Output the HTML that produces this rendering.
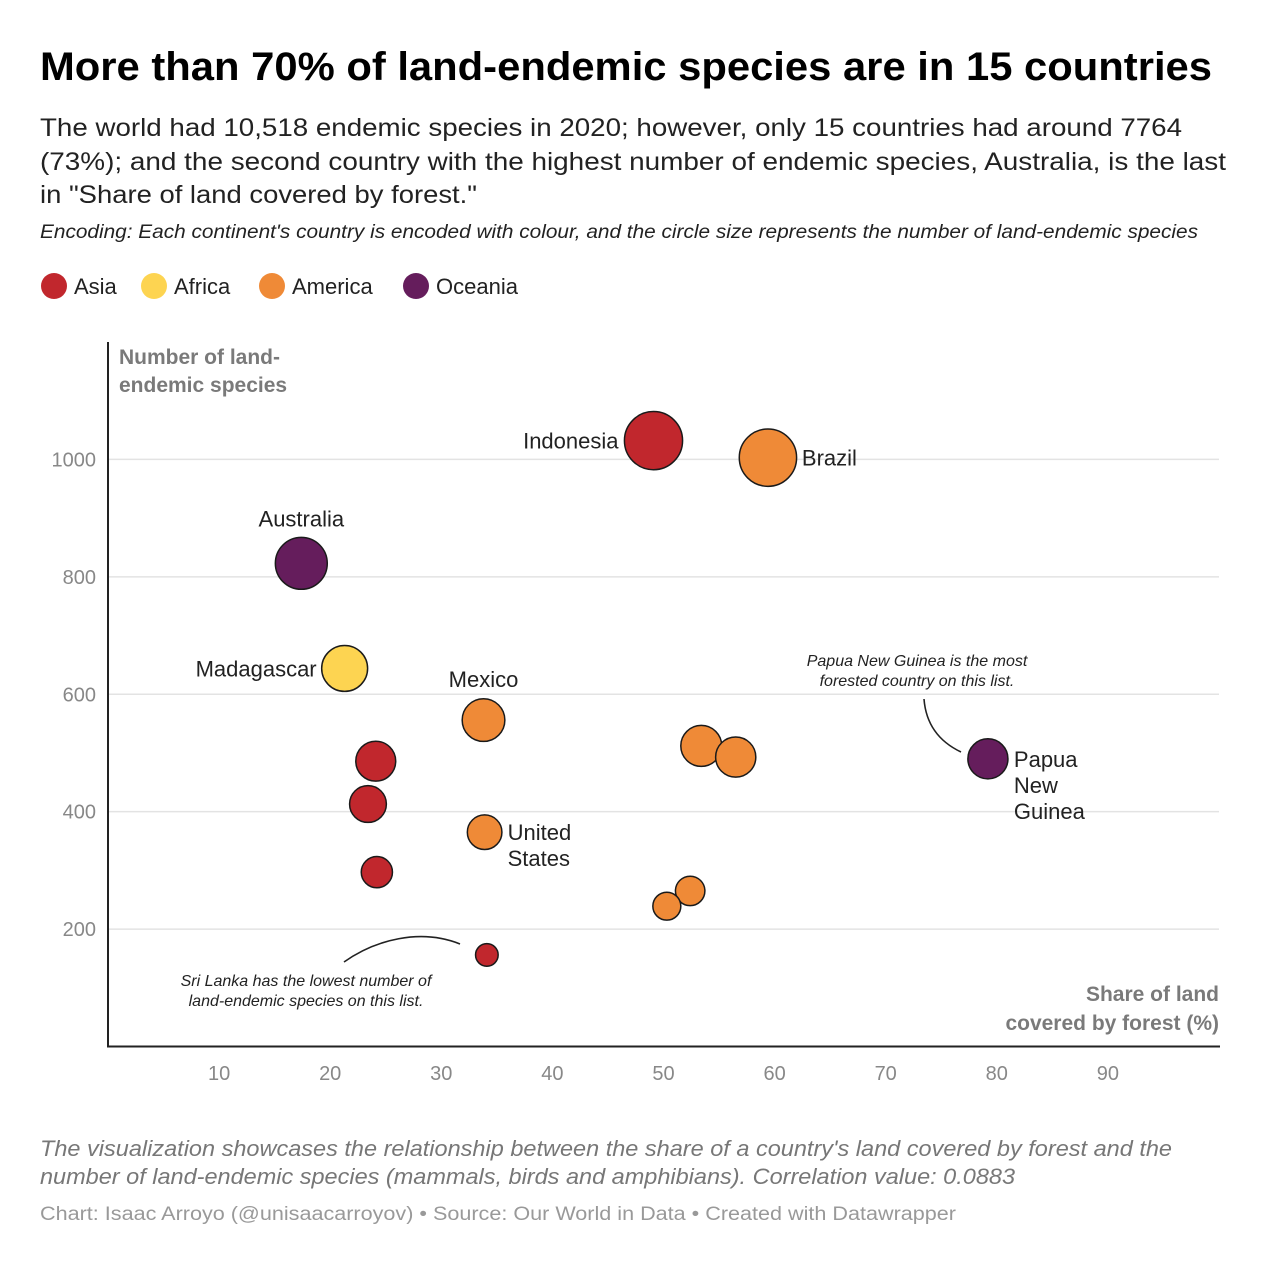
<!DOCTYPE html>
<html><head><meta charset="utf-8"><style>
html,body{margin:0;padding:0;background:#fff;}
svg{display:block;font-family:"Liberation Sans",Arial,sans-serif;}
</style></head><body>
<svg id="chart" width="1280" height="1280" viewBox="0 0 1280 1280" xmlns="http://www.w3.org/2000/svg">
<text x="40" y="80" font-size="40" font-weight="bold" fill="#000" textLength="1172" lengthAdjust="spacingAndGlyphs">More than 70% of land-endemic species are in 15 countries</text>
<g font-size="25" fill="#222">
<text x="40" y="136" textLength="1142" lengthAdjust="spacingAndGlyphs">The world had 10,518 endemic species in 2020; however, only 15 countries had around 7764</text>
<text x="40" y="170" textLength="1186" lengthAdjust="spacingAndGlyphs">(73%); and the second country with the highest number of endemic species, Australia, is the last</text>
<text x="40" y="203" textLength="437" lengthAdjust="spacingAndGlyphs">in "Share of land covered by forest."</text>
</g>
<text x="40" y="238" font-size="19" font-style="italic" fill="#222" textLength="1158" lengthAdjust="spacingAndGlyphs">Encoding: Each continent's country is encoded with colour, and the circle size represents the number of land-endemic species</text>
<g id="legend" font-size="22" fill="#222"></g>
<g id="plot"></g>
<g>
<text x="40" y="1156" font-size="22" font-style="italic" fill="#777" textLength="1132" lengthAdjust="spacingAndGlyphs">The visualization showcases the relationship between the share of a country's land covered by forest and the</text>
<text x="40" y="1184" font-size="22" font-style="italic" fill="#777" textLength="975" lengthAdjust="spacingAndGlyphs">number of land-endemic species (mammals, birds and amphibians). Correlation value: 0.0883</text>
<text x="40" y="1220" font-size="19" fill="#999" textLength="916" lengthAdjust="spacingAndGlyphs">Chart: Isaac Arroyo (@unisaacarroyov) • Source: Our World in Data • Created with Datawrapper</text>
</g>
</svg>
<script>
const NS='http://www.w3.org/2000/svg';
const continents=['Asia','Africa','America','Oceania'];
const colors={Asia:'#c1272d',Africa:'#fdd451',America:'#ef8a37',Oceania:'#651d5c'};
const countries=['Indonesia','Brazil','Australia','Madagascar','Mexico','United States','Asia A','Asia B','Asia C','Sri Lanka','America A','America B','America C','America D','Papua New Guinea'];
const forestShare=[49.1,59.4,17.4,21.3,33.8,33.9,24.1,23.4,24.2,34.1,53.4,56.5,52.4,50.3,79.2];
const species=[1032,1003,823,644,556,365,486,413,297,156,512,493,265,239,490];
const continentOf=['Asia','America','Oceania','Africa','America','America','Asia','Asia','Asia','Asia','America','America','America','America','Oceania'];
const xTicks=[10,20,30,40,50,60,70,80,90];
const yTicks=[200,400,600,800,1000];

const X0=108,X1=1219,Y0=1046.5,Y1=342;
const xs=v=>X0+(v/100)*(X1-X0);
const ys=v=>Y0-(v/1200)*(Y0-Y1);
const rs=v=>0.905*Math.sqrt(v);
function mk(tag,attrs,parent,txt){const e=document.createElementNS(NS,tag);for(const k in attrs)e.setAttribute(k,attrs[k]);if(txt!==undefined)e.textContent=txt;parent.appendChild(e);return e;}

const lg=document.getElementById('legend');
const lx=[54,154,272,416];
continents.forEach((c,i)=>{
  const g=mk('g',{},lg);
  
  
  mk('circle',{cx:lx[i],cy:286,r:13,fill:colors[c]},g);
  mk('text',{x:lx[i]+20,y:294},g,c);
});

const p=document.getElementById('plot');
yTicks.forEach(v=>{
  const l=mk('line',{x1:X0,x2:X1,y1:ys(v),y2:ys(v),stroke:'#e3e3e3','stroke-width':1.5},p);
  
  
  const t=mk('text',{x:96,y:ys(v)+7,'font-size':20,fill:'#888','text-anchor':'end'},p,String(v));
  
  
});
xTicks.forEach(v=>{
  const t=mk('text',{x:xs(v),y:1080,'font-size':20,fill:'#888','text-anchor':'middle'},p,String(v));
  
  
});
const ya=mk('line',{x1:X0,x2:X0,y1:Y1,y2:Y0,stroke:'#222','stroke-width':2},p);


const xa=mk('line',{x1:X0-1,x2:X1+1,y1:Y0,y2:Y0,stroke:'#222','stroke-width':2},p);


const yt=mk('g',{'font-size':21,'font-weight':'bold',fill:'#7a7a7a'},p);


mk('text',{x:119,y:364},yt,'Number of land-');
mk('text',{x:119,y:392},yt,'endemic species');
const xt=mk('g',{'font-size':21,'font-weight':'bold',fill:'#7a7a7a','text-anchor':'end'},p);


mk('text',{x:1219,y:1001},xt,'Share of land');
mk('text',{x:1219,y:1030},xt,'covered by forest (%)');

const a1=mk('path',{d:'M924,699 C926,725 940,742 961,752',fill:'none',stroke:'#222','stroke-width':1.6},p);


const at1=mk('g',{'font-size':16,'font-style':'italic',fill:'#222','text-anchor':'middle'},p);


mk('text',{x:917,y:666},at1,'Papua New Guinea is the most');
mk('text',{x:917,y:686},at1,'forested country on this list.');
const a2=mk('path',{d:'M344,962 C375,940 420,928 460,944',fill:'none',stroke:'#222','stroke-width':1.6},p);


const at2=mk('g',{'font-size':16,'font-style':'italic',fill:'#222','text-anchor':'middle'},p);


mk('text',{x:306,y:986},at2,'Sri Lanka has the lowest number of');
mk('text',{x:306,y:1006},at2,'land-endemic species on this list.');

const order=species.map((v,i)=>i).sort((a,b)=>species[b]-species[a]);
order.forEach(i=>{
  const c=mk('circle',{cx:xs(forestShare[i]),cy:ys(species[i]),r:rs(species[i]),fill:colors[continentOf[i]],stroke:'#1a1a1a','stroke-width':1.5},p);
  
  
});

const labels=[
  {i:0,dx:-35,dy:8,anchor:'end',lines:['Indonesia']},
  {i:1,dx:34,dy:8,anchor:'start',lines:['Brazil']},
  {i:2,dx:0,dy:-37,anchor:'middle',lines:['Australia']},
  {i:3,dx:-28,dy:8,anchor:'end',lines:['Madagascar']},
  {i:4,dx:0,dy:-33,anchor:'middle',lines:['Mexico']},
  {i:5,dx:23,dy:8,anchor:'start',lines:['United','States']},
  {i:14,dx:26,dy:8,anchor:'start',lines:['Papua','New','Guinea']}
];
labels.forEach(L=>{
  const g=mk('text',{x:xs(forestShare[L.i])+L.dx,y:ys(species[L.i])+L.dy,'font-size':22,fill:'#222','text-anchor':L.anchor},p);
  
  
  L.lines.forEach((ln,k)=>{mk('tspan',{x:xs(forestShare[L.i])+L.dx,dy:k?26:0},g,ln);});
});
</script>
</body></html>
